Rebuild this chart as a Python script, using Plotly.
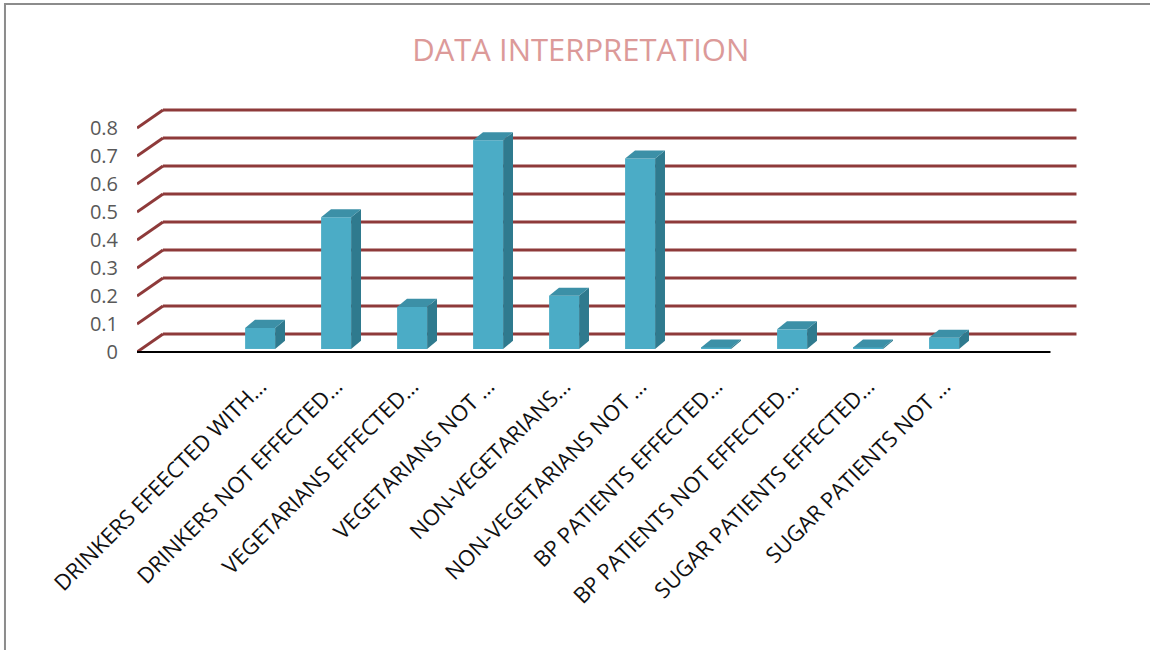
import plotly.graph_objects as go

# ---- data ----
categories = [
    "DRINKERS EFEECTED WITH…",
    "DRINKERS NOT EFFECTED…",
    "VEGETARIANS EFFECTED…",
    "VEGETARIANS NOT …",
    "NON-VEGETARIANS…",
    "NON-VEGETARIANS NOT …",
    "BP PATIENTS EFFECTED…",
    "BP PATIENTS NOT EFFECTED…",
    "SUGAR PATIENTS EFFECTED…",
    "SUGAR PATIENTS NOT …",
]
values = [0.075, 0.47, 0.15, 0.745, 0.19, 0.68, 0.005, 0.07, 0.005, 0.04]
y_ticks = [0, 0.1, 0.2, 0.3, 0.4, 0.5, 0.6, 0.7, 0.8]
y_tick_labels = ["0", "0.1", "0.2", "0.3", "0.4", "0.5", "0.6", "0.7", "0.8"]

# ---- 3D geometry (in axis units) ----
X_LEFT, X_RIGHT = -1.62, 10.4      # front floor extent
DX, DY = 0.342, 0.064              # wall depth offset
BAR_W = 0.395
BAR_F = 0.17                       # bar front position within depth
BDX, BDY = 0.13, 0.029             # bar depth offset

FRONT = "#4BACC6"
SIDE = "#2F7A8E"
TOP = "#3C90A7"
GRID = "#8E3A3A"

xs = list(range(len(categories)))
fig = go.Figure()

base = BAR_F * DY
fig.add_trace(go.Bar(
    x=xs, y=values, base=[base] * len(values), width=BAR_W,
    marker=dict(color=FRONT, line=dict(width=0)), showlegend=False,
))

for x, v in zip(xs, values):
    xl, xr = x - BAR_W / 2, x + BAR_W / 2
    top = base + v
    # side face
    fig.add_trace(go.Scatter(
        x=[xr, xr, xr + BDX, xr + BDX, xr],
        y=[base, top, top + BDY, base + BDY, base],
        fill="toself", fillcolor=SIDE, mode="lines",
        line=dict(width=0, color=SIDE), showlegend=False, hoverinfo="skip",
    ))
    # top face
    fig.add_trace(go.Scatter(
        x=[xl, xr, xr + BDX, xl + BDX, xl],
        y=[top, top, top + BDY, top + BDY, top],
        fill="toself", fillcolor=TOP, mode="lines",
        line=dict(width=0, color=TOP), showlegend=False, hoverinfo="skip",
    ))

shapes = []
for v in y_ticks:
    shapes.append(dict(type="line", xref="x", yref="y", layer="below",
                       x0=X_LEFT, y0=v, x1=X_LEFT + DX, y1=v + DY,
                       line=dict(color=GRID, width=3)))
    shapes.append(dict(type="line", xref="x", yref="y", layer="below",
                       x0=X_LEFT + DX, y0=v + DY, x1=X_RIGHT + DX, y1=v + DY,
                       line=dict(color=GRID, width=3)))
shapes.append(dict(type="line", xref="x", yref="y", layer="below",
                   x0=X_LEFT, y0=0, x1=X_RIGHT, y1=0,
                   line=dict(color="#000000", width=2)))
# outer chart border (left & top visible)
shapes.append(dict(type="rect", xref="paper", yref="paper",
                   x0=-0.1403, y0=-1.16, x1=1.09, y1=1.369,
                   line=dict(color="#8C8C8C", width=2)))

fig.update_layout(
    width=1150, height=650,
    margin=dict(l=137, r=72, t=100, b=290),
    paper_bgcolor="white", plot_bgcolor="white",
    shapes=shapes,
    title=dict(text="DATA INTERPRETATION", x=0.505, xanchor="center",
               y=0.923, yanchor="middle",
               font=dict(family="Open Sans", size=31, color="#DC9A99")),
    xaxis=dict(range=[X_LEFT, X_RIGHT + DX + 0.02], tickvals=xs, ticktext=categories,
               tickangle=-45, showgrid=False, zeroline=False, showline=False,
               ticks="", ticklabelstandoff=8,
               tickfont=dict(family="Open Sans", size=22, color="#111111")),
    yaxis=dict(range=[-0.0286, 0.9], tickvals=y_ticks, ticktext=y_tick_labels,
               showgrid=False, zeroline=False, showline=False, ticks="",
               ticklabelstandoff=18,
               tickfont=dict(family="Open Sans", size=20, color="#595959")),
    showlegend=False,
)

fig.write_html("out.html")
